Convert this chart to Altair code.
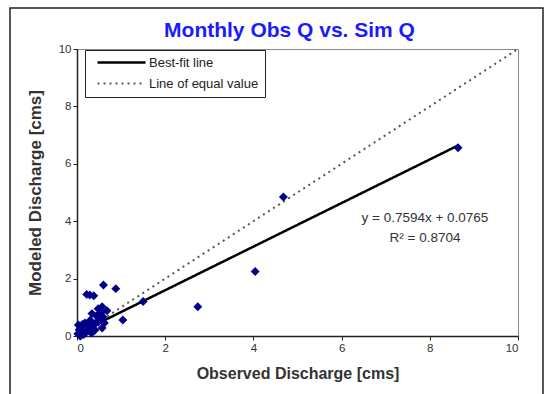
import altair as alt
import pandas as pd

# Monthly observed vs simulated discharge (cms)
obs = [8.64, 4.68, 4.04, 2.74, 1.50, 1.04, 0.60, 0.88, 0.29, 0.22,
       0.38, 0.57, 0.48, 0.68, 0.59, 0.34, 0.52, 0.45, 0.03, 0.18,
       0.25, 0.41, 0.57, 0.11, 0.02, 0.48, 0.10, 0.06, 0.15, 0.30,
       0.36, 0.20, 0.05, 0.12, 0.44, 0.55, 0.08, 0.27, 0.62, 0.33]
sim = [6.56, 4.84, 2.25, 1.02, 1.20, 0.56, 1.78, 1.65, 1.43, 1.45,
       1.40, 1.02, 0.95, 0.88, 0.66, 0.78, 0.62, 0.50, 0.38, 0.45,
       0.21, 0.21, 0.28, 0.14, 0.08, 0.48, 0.30, 0.02, 0.05, 0.55,
       0.35, 0.12, 0.22, 0.40, 0.70, 0.82, 0.00, 0.33, 0.45, 0.10]

# Regression results
slope = 0.7594
intercept = 0.0765
r_squared = 0.8704

axis_ticks = [0, 2, 4, 6, 8, 10]
series_names = ["Best-fit line", "Line of equal value"]

FONT = "Liberation Sans"

points = pd.DataFrame({"obs": obs, "sim": sim})

x_max = max(obs)
lines = pd.DataFrame({
    "obs": [0, x_max, 0, 10],
    "sim": [intercept, slope * x_max + intercept, 0, 10],
    "series": [series_names[0], series_names[0], series_names[1], series_names[1]],
})

eq = pd.DataFrame({
    "obs": [7.89, 7.89],
    "sim": [4.11, 3.41],
    "label": [f"y = {slope:.4f}x + {intercept:.4f}", f"R\u00b2 = {r_squared:.4f}"],
})

x_scale = alt.Scale(domain=[0, 10], nice=False)
y_scale = alt.Scale(domain=[0, 10], nice=False)

x_axis = alt.Axis(values=axis_ticks, title="Observed Discharge [cms]", grid=False,
                  titlePadding=12, titleFontSize=16)
y_axis = alt.Axis(values=axis_ticks, title="Modeled Discharge [cms]", grid=False,
                  titlePadding=14, titleFontSize=17)

# outer chart frame
frame = alt.Chart(pd.DataFrame({"a": [0]})).mark_rect(
    fill=None, stroke="#222", strokeWidth=1.5, clip=False
).encode(
    x=alt.value(-67), x2=alt.value(466), y=alt.value(-41), y2=alt.value(420)
)

# legend swatch: a long horizontal stroke drawn as a custom symbol path
swatch_path = "M0,0H24"

line_layer = alt.Chart(lines).mark_line(clip=True).encode(
    x=alt.X("obs:Q", scale=x_scale, axis=x_axis),
    y=alt.Y("sim:Q", scale=y_scale, axis=y_axis),
    detail="series:N",
    color=alt.Color("series:N",
                    scale=alt.Scale(domain=series_names, range=["#000000", "#555555"]),
                    legend=alt.Legend(title=None, orient="none", legendX=8, legendY=1,
                                      symbolType=swatch_path, symbolSize=16,
                                      symbolStrokeWidth=2.5,
                                      strokeColor="#222", fillColor="white",
                                      padding=6, rowPadding=7, labelFont=FONT,
                                      labelFontSize=13, labelColor="#222",
                                      labelOffset=45)),
    strokeDash=alt.StrokeDash("series:N",
                              scale=alt.Scale(domain=series_names, range=[[1, 0], [2, 4]]),
                              legend=None),
    strokeWidth=alt.StrokeWidth("series:N",
                                scale=alt.Scale(domain=series_names, range=[2.5, 2]),
                                legend=None),
)

point_layer = alt.Chart(points).mark_point(
    shape="diamond", filled=True, color="#00008B", size=80, opacity=1
).encode(
    x=alt.X("obs:Q", scale=x_scale),
    y=alt.Y("sim:Q", scale=y_scale),
)

eq_layer = alt.Chart(eq).mark_text(
    font=FONT, fontSize=13.5, color="#333", align="center", baseline="middle"
).encode(
    x=alt.X("obs:Q", scale=x_scale),
    y=alt.Y("sim:Q", scale=y_scale),
    text="label:N",
)

chart = alt.layer(frame, line_layer, point_layer, eq_layer).properties(
    width=441,
    height=287,
    autosize=alt.AutoSizeParams(type="none"),
    padding={"left": 77, "top": 49, "right": 30, "bottom": 58},
    background="white",
    title=alt.TitleParams("Monthly Obs Q vs. Sim Q", font=FONT, fontSize=21,
                          fontWeight="bold", color="#1a1aff", offset=-34, dx=-8),
).configure_view(
    stroke="#888", strokeWidth=1
).configure_axis(
    domainColor="#222", domainWidth=1.5, tickColor="#222", tickSize=4,
    labelFont=FONT, labelFontSize=11.5, labelColor="#333",
    titleFont=FONT, titleFontWeight="bold", titleColor="#333",
)

chart.save("out.html", embed_options={"renderer": "svg", "actions": False})
